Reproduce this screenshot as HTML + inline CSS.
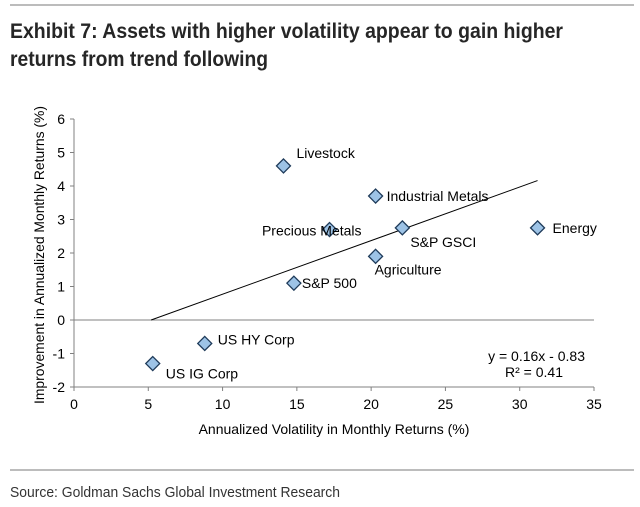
<!DOCTYPE html>
<html><head><meta charset="utf-8"><style>
html,body{margin:0;padding:0;background:#fff;}
svg{display:block;font-family:"Liberation Sans",Arial,sans-serif;}
</style></head><body>
<svg id="chart" width="640" height="507" viewBox="0 0 640 507">
<line x1="10" y1="5" x2="634" y2="5" stroke="#a6a6a6" stroke-width="1.5"/>
<text x="10" y="38" font-size="21" font-weight="bold" fill="#262626" textLength="553" lengthAdjust="spacingAndGlyphs">Exhibit 7: Assets with higher volatility appear to gain higher</text>
<text x="10" y="66" font-size="21" font-weight="bold" fill="#262626" textLength="258" lengthAdjust="spacingAndGlyphs">returns from trend following</text>
<line x1="10" y1="470" x2="634" y2="470" stroke="#a6a6a6" stroke-width="1.5"/>
<text x="10" y="497" font-size="15" fill="#333" textLength="330" lengthAdjust="spacingAndGlyphs">Source: Goldman Sachs Global Investment Research</text>
<text transform="translate(44,255) rotate(-90)" text-anchor="middle" font-size="14" fill="#000" textLength="298" lengthAdjust="spacingAndGlyphs">Improvement in Annualized Monthly Returns (%)</text>
<text x="334" y="434" text-anchor="middle" font-size="14" fill="#000">Annualized Volatility in Monthly Returns (%)</text>
<text x="585" y="361" text-anchor="end" font-size="14">y = 0.16x - 0.83</text>
<text x="563" y="377" text-anchor="end" font-size="14">R² = 0.41</text>
<g id="plot"></g>
</svg>
<script>
const categories=["Livestock","Industrial Metals","Precious Metals","S&P GSCI","Energy","Agriculture","S&P 500","US HY Corp","US IG Corp"];
const xValues=[14.1,20.3,17.2,22.1,31.2,20.3,14.8,8.8,5.3];
const yValues=[4.6,3.7,2.7,2.75,2.75,1.9,1.1,-0.7,-1.3];
const xTicks=[0,5,10,15,20,25,30,35];
const yTicks=[-2,-1,0,1,2,3,4,5,6];
const trendSlope=0.16, trendIntercept=-0.83, trendRange=[5.19,31.2];
const labelDx=[13,11,32,8,15,-1,8,13,13];
const labelDy=[-8,5,6,19,5,18,5,1,15];
const labelAnchor=["start","start","end","start","start","start","start","start","start"];
const NS="http://www.w3.org/2000/svg";
const X=v=>74+v*(594-74)/35;
const Y=v=>320-v*(320-119)/6;
const g=document.getElementById('plot');
function el(t,a){const e=document.createElementNS(NS,t);for(const k in a)e.setAttribute(k,a[k]);g.appendChild(e);return e;}
let e=el('line',{x1:X(0),y1:Y(-2),x2:X(0),y2:Y(6),stroke:'#808080'});


e=el('line',{x1:X(0),y1:Y(-2),x2:X(35),y2:Y(-2),stroke:'#808080'});


e=el('line',{x1:X(0),y1:Y(0),x2:X(35),y2:Y(0),stroke:'#808080'});


yTicks.forEach(t=>{
 let l=el('line',{x1:X(0)-4,y1:Y(t),x2:X(0),y2:Y(t),stroke:'#808080'});
 
 
 let tx=el('text',{x:X(0)-9,y:Y(t)+5,'text-anchor':'end','font-size':14});
 tx.textContent=t;
 
 
});
xTicks.forEach(t=>{
 let l=el('line',{x1:X(t),y1:Y(-2),x2:X(t),y2:Y(-2)+4,stroke:'#808080'});
 
 
 let tx=el('text',{x:X(t),y:Y(-2)+22,'text-anchor':'middle','font-size':14});
 tx.textContent=t;
 
 
});
e=el('line',{x1:X(trendRange[0]),y1:Y(trendSlope*trendRange[0]+trendIntercept),x2:X(trendRange[1]),y2:Y(trendSlope*trendRange[1]+trendIntercept),stroke:'#000','stroke-width':1});


categories.forEach((c,i)=>{
 const cx=X(xValues[i]),cy=Y(yValues[i]);
 let p=el('polygon',{points:`${cx},${cy-7} ${cx+7},${cy} ${cx},${cy+7} ${cx-7},${cy}`,fill:'#9dc3e6',stroke:'#1f3b5a','stroke-width':1.3});
 
 
 let tx=el('text',{x:cx+labelDx[i],y:cy+labelDy[i],'text-anchor':labelAnchor[i],'font-size':14});
 tx.textContent=c;
 
 
});
</script>
</body></html>
